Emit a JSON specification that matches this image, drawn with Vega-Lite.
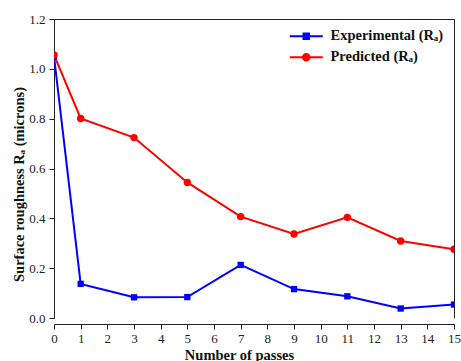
{
  "$schema": "https://vega.github.io/schema/vega-lite/v6.json",
  "width": 400,
  "height": 299,
  "autosize": "none",
  "padding": {"left": 54, "top": 19, "right": 7, "bottom": 43},
  "background": "white",
  "config": {
    "view": {"stroke": null},
    "font": "Liberation Serif",
    "axis": {
      "grid": false,
      "domainColor": "#222222",
      "domainWidth": 1,
      "tickColor": "#222222",
      "tickSize": 5,
      "labelFont": "Liberation Serif",
      "labelFontSize": 13,
      "labelColor": "#222222",
      "titleFont": "Liberation Serif",
      "titleFontWeight": "bold",
      "titleFontSize": 14.5,
      "titleColor": "#111111"
    },
    "legend": {
      "title": null,
      "orient": "top-right",
      "offset": 10,
      "padding": 0,
      "symbolSize": 144,
      "symbolStrokeWidth": 2,
      "labelFont": "Liberation Serif",
      "labelFontSize": 14.5,
      "labelFontWeight": "bold",
      "labelColor": "#111111",
      "labelOffset": 17,
      "rowPadding": 6
    }
  },
  "data": {
    "values": [
      {"passes": 0, "roughness": 1.05, "series": "Experimental (Rₐ)"},
      {"passes": 1, "roughness": 0.137, "series": "Experimental (Rₐ)"},
      {"passes": 3, "roughness": 0.083, "series": "Experimental (Rₐ)"},
      {"passes": 5, "roughness": 0.084, "series": "Experimental (Rₐ)"},
      {"passes": 7, "roughness": 0.213, "series": "Experimental (Rₐ)"},
      {"passes": 9, "roughness": 0.116, "series": "Experimental (Rₐ)"},
      {"passes": 11, "roughness": 0.087, "series": "Experimental (Rₐ)"},
      {"passes": 13, "roughness": 0.038, "series": "Experimental (Rₐ)"},
      {"passes": 15, "roughness": 0.054, "series": "Experimental (Rₐ)"},
      {"passes": 0, "roughness": 1.056, "series": "Predicted (Rₐ)"},
      {"passes": 1, "roughness": 0.801, "series": "Predicted (Rₐ)"},
      {"passes": 3, "roughness": 0.724, "series": "Predicted (Rₐ)"},
      {"passes": 5, "roughness": 0.544, "series": "Predicted (Rₐ)"},
      {"passes": 7, "roughness": 0.407, "series": "Predicted (Rₐ)"},
      {"passes": 9, "roughness": 0.337, "series": "Predicted (Rₐ)"},
      {"passes": 11, "roughness": 0.404, "series": "Predicted (Rₐ)"},
      {"passes": 13, "roughness": 0.309, "series": "Predicted (Rₐ)"},
      {"passes": 15, "roughness": 0.276, "series": "Predicted (Rₐ)"}
    ]
  },
  "resolve": {"axis": {"x": "independent", "y": "independent"}},
  "layer": [
    {
      "mark": {"type": "line", "strokeWidth": 2, "clip": true},
      "encoding": {
        "x": {
          "field": "passes", "type": "quantitative",
          "scale": {"domain": [0, 15], "nice": false, "zero": false},
          "axis": {"orient": "bottom", "offset": 6, "values": [0,1,2,3,4,5,6,7,8,9,10,11,12,13,14,15], "labelPadding": 3, "title": "Number of passes", "titleX": 185, "titleY": 35, "titleBaseline": "alphabetic", "labelFlush": false}
        },
        "y": {
          "field": "roughness", "type": "quantitative",
          "scale": {"domain": [0, 1.2], "nice": false},
          "axis": {"orient": "left", "values": [0, 0.2, 0.4, 0.6, 0.8, 1.0, 1.2], "format": ".1f", "labelPadding": 4, "title": "Surface roughness Rₐ (microns)", "titleAngle": -90, "titleX": -31, "titleY": 165, "titleBaseline": "alphabetic", "titleAlign": "center", "labelFlush": false}
        },
        "color": {
          "field": "series", "type": "nominal",
          "scale": {"domain": ["Experimental (Rₐ)", "Predicted (Rₐ)"], "range": ["#0000ff", "#ff0000"]},
          "legend": {
            "encode": {
              "symbols": {
                "update": {
                  "shape": {"signal": "datum.value == 'Experimental (Rₐ)' ? 'M-2.75,0H2.75M-0.45,-0.45H0.45V0.45H-0.45Z' : 'M-2.75,0H2.75M0.55,0A0.55,0.55,0,1,1,-0.55,0A0.55,0.55,0,1,1,0.55,0Z'"},
                  "stroke": {"scale": "color", "field": "value"},
                  "fill": {"scale": "color", "field": "value"},
                  "strokeWidth": {"value": 2},
                  "opacity": {"value": 1}
                }
              }
            }
          }
        }
      }
    },
    {
      "transform": [{"filter": "datum.series == 'Experimental (Rₐ)'"}],
      "mark": {"type": "point", "shape": "square", "filled": true, "opacity": 1, "size": 40, "clip": true},
      "encoding": {
        "x": {
          "field": "passes", "type": "quantitative",
          "axis": {"orient": "top", "ticks": false, "labels": false, "title": null, "grid": false}
        },
        "y": {
          "field": "roughness", "type": "quantitative",
          "axis": {"orient": "right", "ticks": false, "labels": false, "title": null, "grid": false}
        },
        "color": {"field": "series", "type": "nominal"}
      }
    },
    {
      "transform": [{"filter": "datum.series == 'Predicted (Rₐ)'"}],
      "mark": {"type": "point", "shape": "circle", "filled": true, "opacity": 1, "size": 55, "clip": true},
      "encoding": {
        "x": {"field": "passes", "type": "quantitative", "axis": null},
        "y": {"field": "roughness", "type": "quantitative", "axis": null},
        "color": {"field": "series", "type": "nominal"}
      }
    }
  ]
}
